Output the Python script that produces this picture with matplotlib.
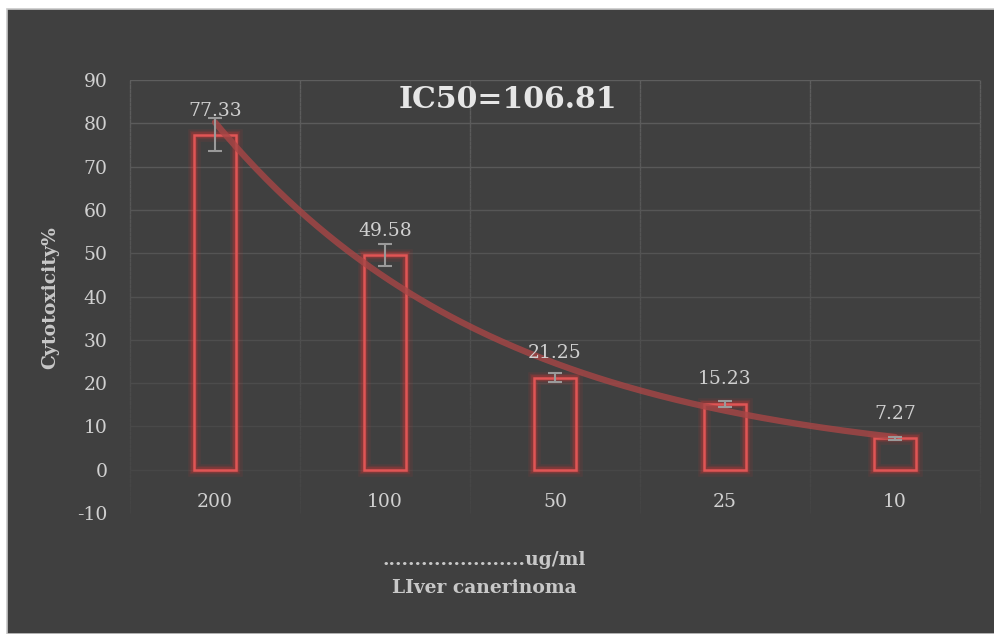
import numpy as np
import matplotlib
matplotlib.use("Agg")
import matplotlib.pyplot as plt
from matplotlib.patches import Rectangle
from matplotlib.collections import LineCollection

categories = ["200", "100", "50", "25", "10"]
values = [77.33, 49.58, 21.25, 15.23, 7.27]
errors = [3.8, 2.5, 1.0, 0.7, 0.3]
yticks = [-10, 0, 10, 20, 30, 40, 50, 60, 70, 80, 90]
title_text = "IC50=106.81"
ylabel_text = "Cytotoxicity%"
xlabel_lines = ["......................ug/ml", "LIver canerinoma"]

W, H = 995, 634
fig = plt.figure(figsize=(W / 100, H / 100), dpi=100)
fig.patch.set_facecolor("white")
bg = "#404040"
fig.patches.append(Rectangle((7 / W, 0), 1, 1 - 9 / H, transform=fig.transFigure,
                             facecolor=bg, edgecolor="#c8c8c8", linewidth=1.2, zorder=-10))

ax = fig.add_axes([130 / W, 121 / H, 850 / W, 433 / H])
ax.set_facecolor(bg)
ax.patch.set_alpha(0)
x = np.arange(len(categories))
ax.set_xlim(-0.5, len(categories) - 0.5)
ax.set_ylim(-10, 90)

serif = "DejaVu Serif"
tick_col = "#d0d0d0"
fs = 13.5
ax.set_yticks(yticks)
ax.set_yticklabels([str(t) for t in yticks], fontsize=fs, color=tick_col, family=serif)
ax.tick_params(axis="y", length=0, pad=16)
ax.set_xticks([])
for s in ax.spines.values():
    s.set_visible(False)


def grid_col(yv):
    # gridlines fade toward the bottom of the plot area
    f = (yv + 10) / 100.0
    c0 = np.array([0x44, 0x44, 0x44]) / 255
    c1 = np.array([0x5e, 0x5e, 0x5e]) / 255
    return tuple(c0 + (c1 - c0) * f)


for t in yticks[1:]:
    ax.axhline(t, color=grid_col(t), lw=1, zorder=0)
ys = np.linspace(-10, 90, 101)
for b in np.arange(-0.5, len(categories), 1.0):
    segs = [[(b, ys[i]), (b, ys[i + 1])] for i in range(len(ys) - 1)]
    cols = [grid_col((ys[i] + ys[i + 1]) / 2) for i in range(len(ys) - 1)]
    ax.add_collection(LineCollection(segs, colors=cols, linewidths=1, zorder=0, clip_on=False))

red = "#e05555"
bw = 0.25
for lw, a in [(9, 0.08), (6, 0.12), (4, 0.2)]:
    ax.bar(x, values, width=bw, facecolor="none", edgecolor="#ff3030", linewidth=lw, alpha=a, zorder=2)
ax.bar(x, values, width=bw, facecolor="none", edgecolor=red, linewidth=1.8, zorder=3)

ax.errorbar(x, values, yerr=errors, fmt="none", ecolor="#9a9a9a", elinewidth=1.5,
            capsize=5, capthick=1.5, zorder=5)

# exponential trendline fitted to the data
coef = np.polyfit(x + 1, np.log(values), 1)
xt = np.linspace(0, len(categories) - 1, 200)
yt = np.exp(coef[1] + coef[0] * (xt + 1))
ax.plot(xt, yt, color="#a84646", lw=4.5, alpha=0.8, solid_capstyle="round", zorder=4)

for xi, v in zip(x, values):
    ax.annotate(f"{v:.2f}", (xi, v), xytext=(0, 17.5), textcoords="offset points",
                ha="center", va="center", fontsize=fs, color=tick_col, family=serif, zorder=6)
for xi, c in zip(x, categories):
    ax.annotate(c, (xi, 0), xytext=(0, -23), textcoords="offset points",
                ha="center", va="center", fontsize=fs, color=tick_col, family=serif)

fig.text(508 / W, 1 - 100 / H, title_text, ha="center", va="center", fontsize=21.5,
         fontweight="bold", color="#e6e6e6", family=serif)
fig.text(50 / W, 1 - 298 / H, ylabel_text, ha="center", va="center", rotation=90,
         fontsize=13.5, fontweight="bold", color="#c8c8c8", family=serif)
fig.text(484 / W, 1 - 560 / H, xlabel_lines[0], ha="center", va="center",
         fontsize=13.5, fontweight="bold", color="#c8c8c8", family=serif)
fig.text(484 / W, 1 - 588 / H, xlabel_lines[1], ha="center", va="center",
         fontsize=13.5, fontweight="bold", color="#c8c8c8", family=serif)

fig.savefig("out.png", dpi=100, facecolor=fig.get_facecolor())
